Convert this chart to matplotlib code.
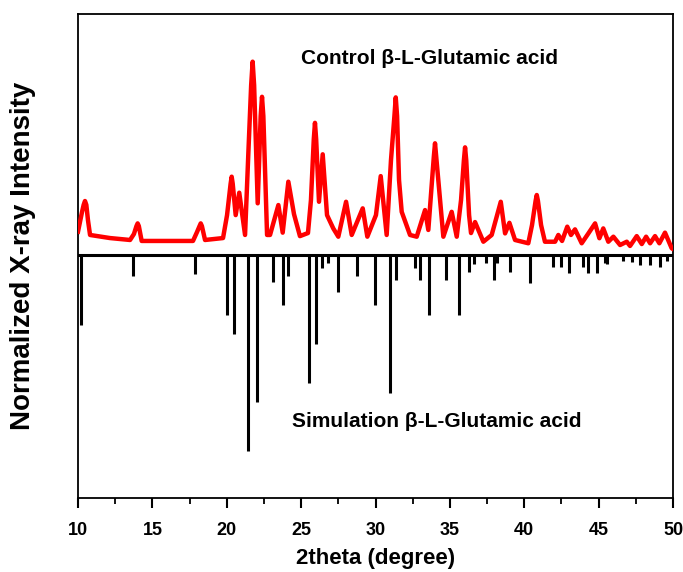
import matplotlib
matplotlib.use("Agg")
import matplotlib.pyplot as plt
from matplotlib.ticker import MultipleLocator

# measured pattern (control sample), 2theta in degrees, relative intensity
theta_exp = [10.00, 10.27, 10.38, 10.47, 10.56, 10.67, 10.81, 12.15, 13.50, 13.76, 13.93, 14.01, 14.09, 14.28,
             17.73, 18.00, 18.17, 18.25, 18.33, 18.54, 19.75, 20.02, 20.26, 20.33, 20.40, 20.60, 20.84, 21.23,
             21.46, 21.64, 21.74, 21.84, 22.08, 22.28, 22.37, 22.46, 22.71, 22.91, 23.47, 23.76, 24.14, 24.52,
             24.92, 25.46, 25.66, 25.85, 25.93, 26.01, 26.20, 26.45, 26.74, 27.16, 27.50, 28.02,
             28.40, 29.14, 29.45, 30.03, 30.35, 30.75, 31.04, 31.27, 31.36, 31.45, 31.58, 31.76,
             32.32, 32.77, 33.33, 33.55, 33.92, 34.00, 34.08, 34.34, 34.56, 35.12, 35.46, 35.75,
             35.94, 36.02, 36.10, 36.29, 36.42, 36.69, 37.25, 37.81, 38.42, 38.71, 39.00, 39.38,
             40.27, 40.52, 40.76, 40.84, 40.92, 41.13, 41.39, 42.07, 42.29, 42.54, 42.89, 43.14,
             43.41, 43.86, 44.31, 44.76, 45.05, 45.31, 45.65, 45.99, 46.44, 46.89,
             47.11, 47.56, 47.90, 48.19, 48.46, 48.79, 49.08, 49.46, 49.91, 50.00]
int_exp = [12.1, 22.3, 26.0, 28.0, 26.0, 18.1, 10.4, 8.8, 7.8, 10.9, 15.0, 16.4, 15.0, 7.3,
           7.3, 11.9, 15.0, 16.4, 15.0, 7.8, 8.8, 20.7, 37.0, 40.6, 37.0, 20.7, 32.3, 10.4,
           54.4, 88.0, 100.2, 88.0, 26.8, 72.0, 82.0, 72.0, 10.4, 10.4, 25.9, 11.6, 38.0, 21.2,
           9.8, 11.4, 28.5, 60.0, 68.5, 60.0, 27.6, 52.2, 20.7, 13.8, 9.5, 27.6,
           10.4, 24.2, 9.5, 20.7, 40.9, 10.4, 49.2, 72.0, 81.7, 72.0, 38.9, 22.4,
           10.4, 9.5, 23.3, 13.0, 51.0, 57.9, 51.0, 28.5, 9.5, 22.4, 9.5, 28.5,
           49.0, 55.8, 49.0, 20.7, 11.4, 17.1, 6.9, 10.4, 27.6, 11.2, 16.7, 7.8,
           6.1, 15.5, 28.0, 31.1, 28.0, 15.5, 6.9, 6.9, 10.4, 7.3, 14.7, 10.4,
           13.3, 6.1, 11.2, 16.4, 8.7, 13.8, 6.9, 9.5, 5.2, 6.9,
           4.7, 9.8, 5.7, 9.5, 6.1, 9.8, 6.1, 11.6, 3.5, 3.1]

# simulated reflections
theta_sim = [10.20, 13.72, 17.89, 20.00, 20.51, 21.41, 22.01, 23.08, 23.76, 24.10,
             25.55, 26.00, 26.38, 26.83, 27.50, 28.78, 29.97, 30.95, 31.38, 32.66,
             32.99, 33.62, 34.72, 35.61, 36.29, 36.62, 37.43, 37.97, 38.15, 39.04,
             40.41, 41.95, 42.45, 43.03, 43.97, 44.31, 44.91, 45.43, 45.58, 46.66,
             47.22, 47.78, 48.46, 49.13, 49.58]
int_sim = [36.3, 10.9, 9.8, 31.1, 41.1, 101.4, 76.3, 13.8, 25.9, 10.9,
           66.2, 46.1, 6.9, 4.3, 19.0, 10.9, 25.9, 71.3, 13.0, 6.9,
           13.0, 31.1, 13.0, 31.1, 9.0, 4.7, 4.1, 13.0, 4.1, 8.8,
           14.5, 6.0, 6.0, 9.2, 6.0, 9.2, 9.2, 4.3, 4.5, 3.0,
           3.8, 5.2, 5.2, 6.0, 3.0]

plt.rcParams['font.family'] = ['Liberation Sans', 'DejaVu Sans']
plt.rcParams['font.weight'] = 'bold'

fig = plt.figure(figsize=(6.83, 5.72), dpi=100)
ax = fig.add_axes([0.1142, 0.1294, 0.8712, 0.8461])

# experimental curve on top, simulated sticks hanging below
ax.plot(theta_exp, int_exp, color='#ff0000', lw=3.2, solid_joinstyle='round', zorder=3)
ax.vlines(theta_sim, 0, [-v for v in int_sim], color='black', lw=2.2, zorder=2)
ax.axhline(0, color='black', lw=2.2, zorder=2)

ax.text(33.6, 102.0, 'Control β-L-Glutamic acid', ha='center', va='center',
        fontsize=15, fontweight='bold')
ax.text(34.1, -86.5, 'Simulation β-L-Glutamic acid', ha='center', va='center',
        fontsize=15, fontweight='bold')

ax.set_xlim(10, 50)
ax.set_ylim(-125.9, 124.9)
ax.xaxis.set_major_locator(MultipleLocator(5))
ax.xaxis.set_minor_locator(MultipleLocator(2.5))
ax.tick_params(axis='x', which='major', direction='out', length=7, width=1.5,
               labelsize=13, pad=10)
ax.tick_params(axis='x', which='minor', direction='out', length=4, width=1.3)
ax.set_yticks([])
for lab in ax.get_xticklabels():
    lab.set_fontweight('bold')
for s in ax.spines.values():
    s.set_linewidth(1.3)

ax.set_xlabel('2theta (degree)', fontsize=16, fontweight='bold', labelpad=7)
ax.set_ylabel('Normalized X-ray Intensity', fontsize=20, fontweight='bold', labelpad=30)

fig.savefig('out.png', dpi=100)
